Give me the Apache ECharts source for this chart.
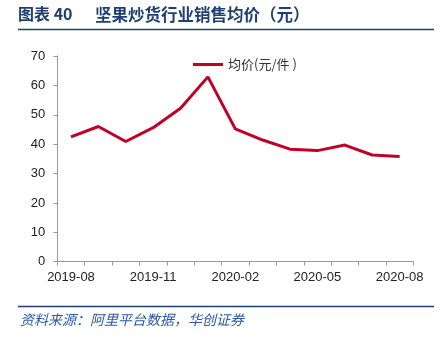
<!DOCTYPE html>
<html><head><meta charset="utf-8">
<script src="https://cdn.jsdelivr.net/npm/echarts@6/dist/echarts.min.js"></script>
<style>html,body{margin:0;padding:0;background:#fff}#c{width:440px;height:339px}</style>
</head><body><div id="c"></div>
<script>
var categories = ['2019-08','2019-09','2019-10','2019-11','2019-12','2020-01','2020-02','2020-03','2020-04','2020-05','2020-06','2020-07','2020-08'];
var avgPrice = [42.5, 46.0, 40.9, 45.6, 52.2, 62.9, 45.2, 41.4, 38.3, 37.8, 39.7, 36.3, 35.8];
var seriesName = '均价(元/件 )';
var yTicks = {min: 0, max: 70, interval: 10};

var chart = echarts.init(document.getElementById('c'), null, {renderer: 'canvas'});
var navy = '#1F3F73';
chart.setOption({
  animation: false,
  textStyle: {fontFamily: 'Liberation Sans, Arial, sans-serif'},
  grid: {left: 57.3, right: 26.7, top: 56, bottom: 77.3},
  legend: {
    data: [seriesName], left: 188, top: 53, itemWidth: 30, itemHeight: 3, itemGap: 6,
    icon: 'rect',
    textStyle: {fontSize: 13, color: '#333', fontFamily: 'Noto Sans CJK SC, sans-serif'}
  },
  xAxis: {
    type: 'category', data: categories, boundaryGap: true,
    axisLine: {lineStyle: {color: '#9a9a9a', width: 1}},
    axisTick: {show: true, interval: 0, length: 4, lineStyle: {color: '#9a9a9a'}},
    axisLabel: {interval: 2, fontSize: 13, color: '#222', margin: 9}
  },
  yAxis: {
    type: 'value', min: yTicks.min, max: yTicks.max, interval: yTicks.interval,
    axisLine: {show: true, lineStyle: {color: '#9a9a9a', width: 1}},
    axisTick: {show: true, length: 4, lineStyle: {color: '#9a9a9a'}},
    splitLine: {show: false},
    axisLabel: {fontSize: 13, color: '#222', margin: 12}
  },
  series: [{
    name: seriesName, type: 'line', data: avgPrice, symbol: 'none',
    lineStyle: {color: '#C00026', width: 3}, itemStyle: {color: '#C00026'}
  }],
  graphic: [
    {type: 'text', left: 18, top: 6, style: {text: '图表 40', fontSize: 16, fontWeight: 'bold', fill: navy, fontFamily: 'Noto Sans CJK SC, serif'}},
    {type: 'text', left: 95, top: 6, style: {text: '坚果炒货行业销售均价（元）', fontSize: 16.5, fontWeight: 'bold', fill: navy, fontFamily: 'Noto Sans CJK SC, serif'}},
    {type: 'line', shape: {x1: 18, y1: 29.5, x2: 434, y2: 29.5}, style: {stroke: navy, lineWidth: 1.5}},
    {type: 'line', shape: {x1: 18, y1: 306.5, x2: 434, y2: 306.5}, style: {stroke: navy, lineWidth: 1.5}},
    {type: 'text', left: 20, top: 313, style: {text: '资料来源：阿里平台数据，华创证券', fontSize: 14, fontStyle: 'italic', fill: '#2B59A3', fontFamily: 'Noto Sans CJK SC, sans-serif'}}
  ]
});
</script></body></html>
